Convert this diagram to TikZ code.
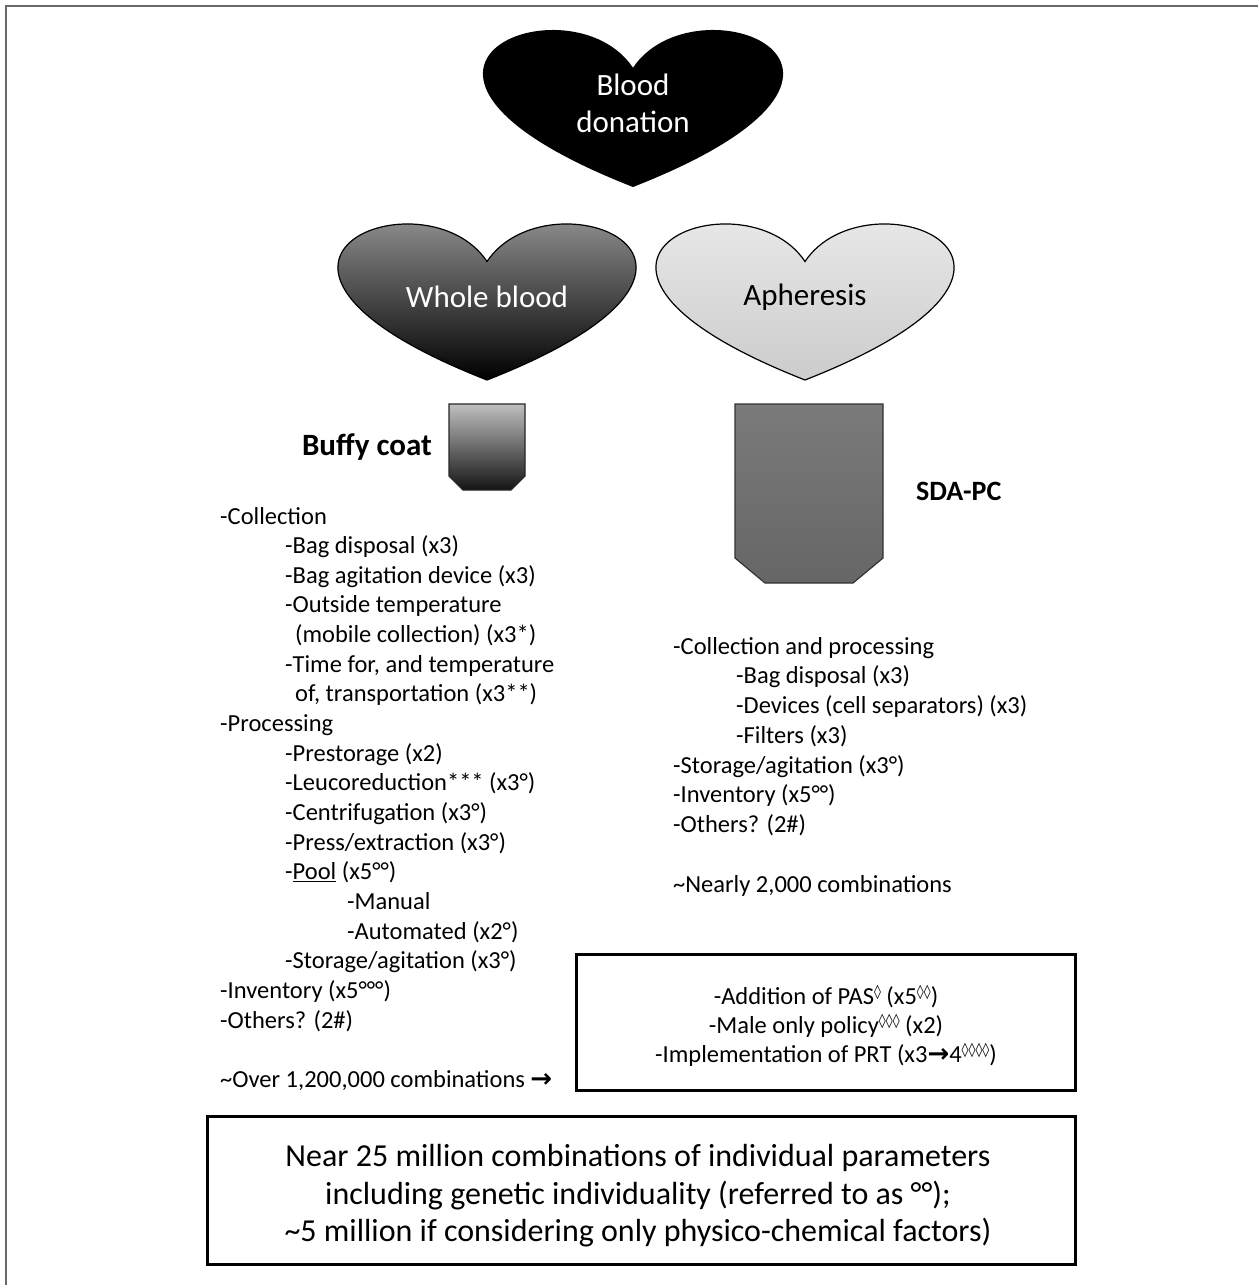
\documentclass[tikz,border=0pt]{standalone}
\usepackage{fontspec}
\setmainfont{Carlito}
\newfontfamily\dejavu{DejaVu Sans}
\newcommand\heartpath[4]{(#1+#3/2,#2+#4/4) .. controls (#1+#3/2+#3*10/48,#2-#4/3) and (#1+#3/2+#3*49/48,#2+#4/4) .. (#1+#3/2,#2+#4) .. controls (#1+#3/2-#3*49/48,#2+#4/4) and (#1+#3/2-#3*10/48,#2-#4/3) .. (#1+#3/2,#2+#4/4) -- cycle}
\newcommand\dia[1]{\raisebox{8pt}{\dejavu\fontsize{14}{14}\selectfont #1}}
\newcommand\rarr{{\dejavu\bfseries\fontsize{26}{26}\selectfont →}}
\definecolor{frame}{HTML}{6A6A6A}
\begin{document}
\begin{tikzpicture}[x=1pt,y=-1pt,
  body/.style={inner sep=0pt, anchor=base west, font=\fontsize{24.5}{29.6}\selectfont},
  boxtext/.style={inner sep=0pt, anchor=base, font=\fontsize{24.5}{29}\selectfont},
  bigtext/.style={inner sep=0pt, anchor=base, font=\fontsize{32}{37.5}\selectfont},
  heartlabel/.style={inner sep=0pt, font=\fontsize{31}{37}\selectfont},
  baglabel/.style={inner sep=0pt, font=\fontsize{31}{37}\selectfont\bfseries},
  panel/.style={draw=black, line width=3pt}]
\useasboundingbox (0,0) rectangle (1258,1285);
\fill[white] (0,0) rectangle (1258,1285);
% outer frame (top and left edges only)
\draw[frame, line width=2pt] (6,1285) -- (6,6) -- (1258,6);

% hearts
\fill[black] \heartpath{484}{28}{298}{159};
\path[draw=black, line width=1.2pt, top color=black!28, bottom color=black] \heartpath{339}{222}{296}{158};
\path[draw=black, line width=1.2pt, top color=black!6, bottom color=black!20] \heartpath{657}{222}{296}{158};
\node[heartlabel, text=white] (don1) at (633,85) {Blood};
\node[heartlabel, text=white] (don2) at (633,122) {donation};
\node[heartlabel, text=white] (wb) at (487,297) {Whole blood};
\node[heartlabel, text=black] (aph) at (805,297) {Apheresis};

% bags
\path[draw=black!85, line width=1.2pt, top color=black!25, bottom color=black!92]
  (449,404) -- (525,404) -- (525,476) -- (511,490) -- (463,490) -- (449,476) -- cycle;
\path[draw=black!80, line width=1.2pt, top color=black!52, bottom color=black!60]
  (735,404) -- (883,404) -- (883,558) -- (853,583) -- (765,583) -- (735,558) -- cycle;
\node[baglabel, anchor=east] (bc) at (432,447) {Buffy coat};
\node[baglabel, anchor=west, font=\fontsize{28}{32}\selectfont\bfseries] (sda) at (916,491) {SDA-PC};

% left list
\node[body] (l0) at (220,524) {-Collection};
\node[body] (l1) at (285,524+29.65*1) {-Bag disposal (x3)};
\node[body] (l2) at (285,524+29.65*2) {-Bag agitation device (x3)};
\node[body] (l3) at (285,524+29.65*3) {-Outside temperature};
\node[body] (l4) at (295,524+29.65*4) {(mobile collection) (x3*)};
\node[body] (l5) at (285,524+29.65*5) {-Time for, and temperature};
\node[body] (l6) at (295,524+29.65*6) {of, transportation (x3**)};
\node[body] (l7) at (220,524+29.65*7) {-Processing};
\node[body] (l8) at (285,524+29.65*8) {-Prestorage (x2)};
\node[body] (l9) at (285,524+29.65*9) {-Leucoreduction*** (x3°)};
\node[body] (l10) at (285,524+29.65*10) {-Centrifugation (x3°)};
\node[body] (l11) at (285,524+29.65*11) {-Press/extraction (x3°)};
\node[body] (l12) at (285,524+29.65*12) {-\underline{Pool} (x5°°)};
\node[body] (l13) at (347,524+29.65*13) {-Manual};
\node[body] (l14) at (347,524+29.65*14) {-Automated (x2°)};
\node[body] (l15) at (285,524+29.65*15) {-Storage/agitation (x3°)};
\node[body] (l16) at (220,524+29.65*16) {-Inventory (x5°°°)};
\node[body] (l17) at (220,524+29.65*17) {-Others? (2\#)};
\node[body] (l19) at (220,524+29.65*19) {\textasciitilde Over 1,200,000 combinations \rarr};

% right list
\node[body] (r0) at (673,654) {-Collection and processing};
\node[body] (r1) at (736,654+29.75*1) {-Bag disposal (x3)};
\node[body] (r2) at (736,654+29.75*2) {-Devices (cell separators) (x3)};
\node[body] (r3) at (736,654+29.75*3) {-Filters (x3)};
\node[body] (r4) at (673,654+29.75*4) {-Storage/agitation (x3°)};
\node[body] (r5) at (673,654+29.75*5) {-Inventory (x5°°)};
\node[body] (r6) at (673,654+29.75*6) {-Others? (2\#)};
\node[body] (r8) at (673,654+29.75*8) {\textasciitilde Nearly 2,000 combinations};

% right box
\draw[panel] (576,954) rectangle (1075,1090);
\node[boxtext] (b1) at (826,1004) {-Addition of PAS\dia{◊} (x5\dia{◊◊})};
\node[boxtext] (b2) at (826,1033) {-Male only policy\dia{◊◊◊} (x2)};
\node[boxtext] (b3) at (826,1062) {-Implementation of PRT (x3\rarr4\dia{◊◊◊◊})};

% bottom box
\draw[panel] (207,1116) rectangle (1075,1264);
\node[bigtext] (s1) at (638,1166) {Near 25 million combinations of individual parameters};
\node[bigtext] (s2) at (638,1204) {including genetic individuality (referred to as °°);};
\node[bigtext] (s3) at (638,1241) {\textasciitilde 5 million if considering only physico-chemical factors)};
\end{tikzpicture}
\end{document}
